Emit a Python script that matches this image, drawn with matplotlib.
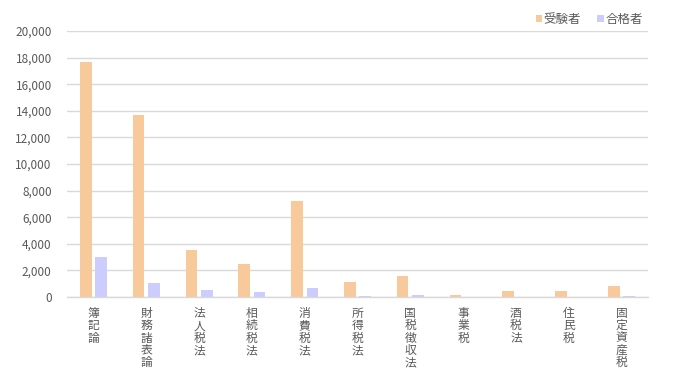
import matplotlib
matplotlib.use("Agg")
import matplotlib.pyplot as plt
import numpy as np

plt.rcParams["font.family"] = ["Noto Sans CJK JP", "DejaVu Sans"]

subjects = ["簿記論", "財務諸表論", "法人税法", "相続税法", "消費税法", "所得税法",
            "国税徴収法", "事業税", "酒税法", "住民税", "固定資産税"]
examinees = [17700, 13650, 3550, 2500, 7200, 1150, 1600, 180, 480, 420, 850]
passed = [3000, 1080, 560, 400, 700, 110, 160, 20, 30, 20, 90]

ORANGE = "#F8CA9B"
PURPLE = "#CCCCFF"
GRID = "#D9D9D9"
TEXT = "#595959"

x = np.arange(len(subjects))
width = 0.22
offset = 0.145

fig = plt.figure(figsize=(6.8, 3.8), dpi=100)
ax = fig.add_axes([67 / 680, 1 - 297 / 380, (648 - 67) / 680, 266 / 380])

ax.bar(x - offset, examinees, width, color=ORANGE, label="受験者", zorder=2)
ax.bar(x + offset, passed, width, color=PURPLE, label="合格者", zorder=2)

ax.set_xlim(-0.5, len(subjects) - 0.5)
ax.set_ylim(0, 20000)
ax.set_yticks(np.arange(0, 20001, 2000))
ax.set_yticklabels([f"{v:,}" for v in range(0, 20001, 2000)])
ax.yaxis.grid(True, color=GRID, linewidth=1)
ax.set_axisbelow(True)

ax.set_xticks(x)
ax.set_xticklabels(["\n".join(s) for s in subjects], linespacing=0.94, va="top")

for side in ["top", "right", "left"]:
    ax.spines[side].set_visible(False)
ax.spines["bottom"].set_color(GRID)
ax.spines["bottom"].set_linewidth(1)

ax.tick_params(axis="both", length=0, colors=TEXT, labelsize=8.5)
ax.tick_params(axis="y", pad=11, labelsize=8.5)
ax.tick_params(axis="x", pad=7)

leg = ax.legend(loc="lower right", bbox_to_anchor=(1.0, 1.0), ncol=2, frameon=False,
                fontsize=9, handlelength=0.55, handleheight=0.55, handletextpad=0.1,
                columnspacing=1.3, borderaxespad=0.0, borderpad=0.4)
for t in leg.get_texts():
    t.set_color(TEXT)

fig.savefig("out.png", dpi=100)
